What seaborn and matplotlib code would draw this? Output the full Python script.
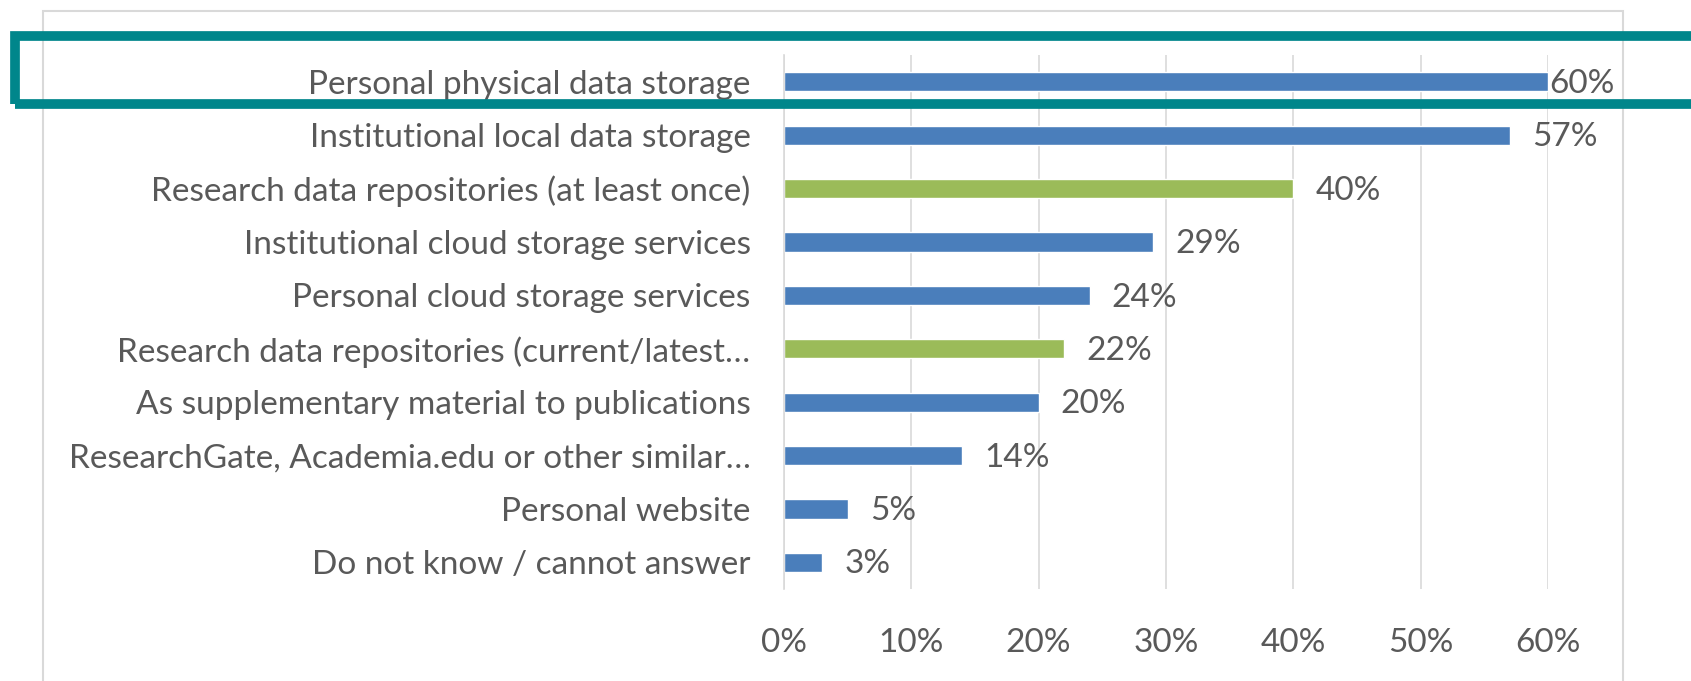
import matplotlib
matplotlib.use("Agg")
import matplotlib.pyplot as plt
import seaborn as sns
import pandas as pd
from matplotlib.patches import Rectangle

categories = [
    "Personal physical data storage",
    "Institutional local data storage",
    "Research data repositories (at least once)",
    "Institutional cloud storage services",
    "Personal cloud storage services",
    "Research data repositories (current/latest…",
    "As supplementary material to publications",
    "ResearchGate, Academia.edu or other similar…",
    "Personal website",
    "Do not know / cannot answer",
]
values = [60, 57, 40, 29, 24, 22, 20, 14, 5, 3]
groups = ["other", "other", "repo", "other", "other", "repo", "other", "other", "other", "other"]
xticks = [0, 10, 20, 30, 40, 50, 60]
xtick_labels = ["0%", "10%", "20%", "30%", "40%", "50%", "60%"]

df = pd.DataFrame({"category": categories, "value": values, "group": groups})

sns.set_theme(style="white")
plt.rcParams["font.family"] = ["Lato", "DejaVu Sans"]

text_color = "#595959"
fs = 24
fig = plt.figure(figsize=(16.91, 6.81), dpi=100)
ax = fig.add_axes([0.4636, 0.135, 0.9154 - 0.4636, 0.919 - 0.135])

sns.barplot(data=df, y="category", x="value", hue="group", order=categories,
            palette={"other": "#4A7EBB", "repo": "#9BBB59"}, dodge=False,
            width=0.36, legend=False, ax=ax, saturation=1)

ax.set_xlim(0, 60)
ax.set_ylim(len(categories) - 0.5, -0.5)
ax.set_xticks(xticks)
ax.set_xticklabels(xtick_labels)
ax.grid(axis="x", color="#D9D9D9", linewidth=1.2)
ax.set_axisbelow(True)
for s in ["top", "right", "bottom"]:
    ax.spines[s].set_visible(False)
ax.spines["left"].set_color("#D9D9D9")
ax.spines["left"].set_linewidth(1.2)
ax.set_xlabel("")
ax.set_ylabel("")
ax.tick_params(axis="y", length=0, pad=24, labelsize=fs, labelcolor=text_color)
ax.tick_params(axis="x", length=0, pad=28, labelsize=fs, labelcolor=text_color)

pads = [1, 16, 16, 16, 16, 16, 16, 16, 16, 16]
for i, (v, p) in enumerate(zip(values, pads)):
    ax.annotate(f"{v}%", xy=(v, i), xytext=(p, -1.5), textcoords="offset points",
                va="center", ha="left", fontsize=fs, color=text_color)

# chart frame
fig.patches.append(Rectangle((43 / 1691, -0.1), (1623 - 43) / 1691, 1.1 - 11 / 681,
                             transform=fig.transFigure, fill=False,
                             edgecolor="#D9D9D9", linewidth=1.5, zorder=0))
# teal highlight box
fig.patches.append(Rectangle((15 / 1691, 1 - 104 / 681), 1.1, (104 - 36) / 681,
                             transform=fig.transFigure, fill=False,
                             edgecolor="#00868B", linewidth=7, zorder=5))

fig.savefig("out.png", dpi=100)
